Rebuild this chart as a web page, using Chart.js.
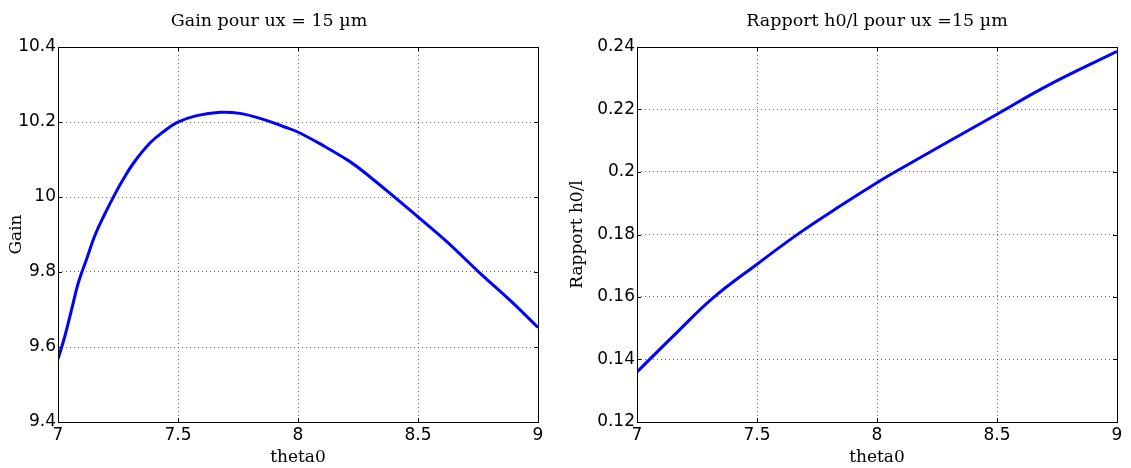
<!DOCTYPE html>
<html>
<head>
<meta charset="utf-8">
<script src="https://cdn.jsdelivr.net/npm/chart.js@4"></script>
<style>
  body { margin: 0; background: #fff; width: 1131px; height: 468px; position: relative; overflow: hidden; }
  canvas { position: absolute; top: 0; }
  #gainChart { left: 0; }
  #ratioChart { left: 566px; }
</style>
</head>
<body>
<canvas id="gainChart" width="566" height="468"></canvas>
<canvas id="ratioChart" width="565" height="468"></canvas>
<script>
// valeurs
const gainTheta  = [7.0, 7.029, 7.057, 7.085, 7.12, 7.154, 7.196, 7.231, 7.265, 7.314, 7.383, 7.439, 7.497, 7.578, 7.675, 7.758, 7.855, 7.939, 7.997, 8.105, 8.21, 8.272, 8.411, 8.5, 8.62, 8.758, 8.883, 9.0];
const gainValues = [9.568, 9.63, 9.701, 9.772, 9.836, 9.898, 9.956, 10.0, 10.04, 10.09, 10.144, 10.174, 10.199, 10.217, 10.226, 10.223, 10.207, 10.188, 10.174, 10.137, 10.097, 10.068, 9.995, 9.947, 9.881, 9.797, 9.725, 9.652];

const ratioTheta  = [7.0, 7.172, 7.318, 7.5, 7.679, 7.846, 8.013, 8.093, 8.5, 8.707, 9.0];
const ratioValues = [0.136, 0.1491, 0.1598, 0.1705, 0.1806, 0.1891, 0.1972, 0.2008, 0.2185, 0.2275, 0.2386];

const gainRange  = [9.4, 10.4, 0.2];
const ratioRange = [0.12, 0.24, 0.02];
const thetaRange = [7, 9, 0.5];

const TICK_FONT = { family: 'DejaVu Sans', size: 17 };
const SERIF = 'DejaVu Serif';

// matplotlib-like box + inward ticks
const innerTicks = {
  id: 'innerTicks',
  afterDraw(chart) {
    const { ctx, chartArea: a, scales: { x, y } } = chart;
    ctx.save();
    ctx.strokeStyle = '#000';
    ctx.lineWidth = 1;
    ctx.beginPath();
    x.ticks.forEach(t => {
      const px = Math.round(x.getPixelForValue(t.value)) + 0.5;
      ctx.moveTo(px, a.bottom); ctx.lineTo(px, a.bottom - 4);
      ctx.moveTo(px, a.top); ctx.lineTo(px, a.top + 4);
    });
    y.ticks.forEach(t => {
      const py = Math.round(y.getPixelForValue(t.value)) + 0.5;
      ctx.moveTo(a.left, py); ctx.lineTo(a.left + 4, py);
      ctx.moveTo(a.right, py); ctx.lineTo(a.right - 4, py);
    });
    ctx.stroke();
    ctx.strokeRect(Math.round(a.left) + 0.5, Math.round(a.top) + 0.5,
                   Math.round(a.right - a.left), Math.round(a.bottom - a.top));
    ctx.restore();
  }
};

function fmt(v) { return String(+Number(v).toFixed(3)); }

function makeChart(id, xs, ys, range, cfg) {
  const pts = xs.map((x, i) => ({ x: x, y: ys[i] }));
  return new Chart(document.getElementById(id), {
    type: 'line',
    data: {
      datasets: [{
        data: pts,
        borderColor: '#0000ff',
        borderWidth: 3,
        pointRadius: 0,
        tension: 0.4,
        fill: false
      }]
    },
    plugins: [innerTicks],
    options: {
      responsive: false,
      animation: false,
      layout: { padding: { left: 0, right: cfg.padRight, top: 0, bottom: 0 } },
      plugins: {
        legend: { display: false },
        tooltip: { enabled: false },
        title: {
          display: true,
          text: cfg.title,
          fullSize: cfg.fullSize,
          color: '#000',
          font: { family: SERIF, size: 17.5, weight: 'normal', lineHeight: 1.2 },
          padding: { top: 11, bottom: 15 }
        }
      },
      scales: {
        x: {
          type: 'linear',
          min: thetaRange[0], max: thetaRange[1],
          ticks: { stepSize: thetaRange[2], color: '#000', font: TICK_FONT, padding: 3, callback: fmt, maxRotation: 0 },
          grid: { color: 'rgba(0,0,0,0.6)', drawTicks: false },
          border: { display: false, dash: [1, 3] },
          title: { display: true, text: 'theta0', color: '#000', font: { family: SERIF, size: 17, lineHeight: 1.2 }, padding: { top: 2, bottom: 0 } },
          afterFit(s) { s.height = 46; }
        },
        y: {
          min: range[0], max: range[1],
          ticks: { stepSize: range[2], color: '#000', font: TICK_FONT, padding: 2, callback: fmt },
          grid: { color: 'rgba(0,0,0,0.6)', drawTicks: false },
          border: { display: false, dash: [1, 3] },
          title: { display: true, text: cfg.yLabel, color: '#000', font: { family: SERIF, size: 17, lineHeight: 1.2 }, padding: { top: cfg.yTitlePad, bottom: 0 } },
          afterFit(s) { s.width = cfg.yWidth; }
        }
      }
    }
  });
}

makeChart('gainChart', gainTheta, gainValues, gainRange, {
  title: 'Gain pour ux = 15 µm', yLabel: 'Gain', fullSize: true,
  padRight: 28, yWidth: 58, yTitlePad: 6
});

makeChart('ratioChart', ratioTheta, ratioValues, ratioRange, {
  title: 'Rapport h0/l pour ux =15 µm', yLabel: 'Rapport h0/l', fullSize: false,
  padRight: 14, yWidth: 71, yTitlePad: 1
});
</script>
</body>
</html>
